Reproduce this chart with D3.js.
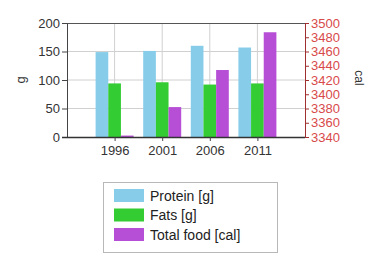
<!DOCTYPE html>
<html>
<head>
<meta charset="utf-8">
<script src="https://cdn.jsdelivr.net/npm/d3@7"></script>
<style>
  body { margin: 0; background: #fff; }
  svg { display: block; font-family: "Liberation Sans", Arial, sans-serif; }
</style>
</head>
<body>
<div id="chart"></div>
<script>
const years = ["1996", "2001", "2006", "2011"];
const protein = [149, 151, 160, 157];
const fats = [94, 96, 92, 94];
const totalFood = [3342, 3382, 3434, 3487];
const gTicks = [0, 50, 100, 150, 200];
const calTicks = [3340, 3360, 3380, 3400, 3420, 3440, 3460, 3480, 3500];

const seriesNames = ["Protein [g]", "Fats [g]", "Total food [cal]"];
const colors = ["#87cdea", "#33cc33", "#b64fd6"];

const width = 367, height = 254;
const plotL = 67, plotR = 305, plotT = 23, plotB = 137;

const svg = d3.select('#chart').append('svg')
    .attr('width', width)
    .attr('height', height);

const step = (plotR - plotL) / 5;
const x = d3.scalePoint()
    .domain(years)
    .range([plotL + step, plotR - step]);

const inner = d3.scaleBand()
    .domain([0, 1, 2])
    .range([-19, 19]);

const yG = d3.scaleLinear().domain([0, 200]).range([plotB, plotT]);
const yCal = d3.scaleLinear().domain([3340, 3500]).range([plotB, plotT]);

// grid
svg.append('g')
    .selectAll('line')
    .data(gTicks.slice(1, -1))
  .enter().append('line')
    .attr('x1', plotL).attr('x2', plotR)
    .attr('y1', d => yG(d)).attr('y2', d => yG(d))
    .style('stroke', '#d0d0d0');

svg.append('g')
    .selectAll('line')
    .data(years)
  .enter().append('line')
    .attr('x1', d => x(d)).attr('x2', d => x(d))
    .attr('y1', plotT).attr('y2', plotB)
    .style('stroke', '#d0d0d0');

// top border
svg.append('line')
    .attr('x1', plotL).attr('x2', plotR)
    .attr('y1', plotT + 0.5).attr('y2', plotT + 0.5)
    .style('stroke', '#555');

// bars
const rows = years.map((y, i) => ({ year: y, vals: [protein[i], fats[i], totalFood[i]] }));

const groups = svg.append('g')
    .selectAll('g')
    .data(rows)
  .enter().append('g')
    .attr('transform', d => `translate(${x(d.year)},0)`);

groups.selectAll('rect')
    .data(d => d.vals.map((v, k) => ({ v, k })))
  .enter().append('rect')
    .attr('x', d => inner(d.k))
    .attr('width', inner.bandwidth())
    .attr('y', d => d.k === 2 ? yCal(d.v) : yG(d.v))
    .attr('height', d => d.k === 2 ? plotB - yCal(d.v) : plotB - yG(d.v))
    .style('fill', d => colors[d.k]);

// axes
const axisLeft = svg.append('g')
    .attr('transform', `translate(${plotL},0)`)
    .call(d3.axisLeft(yG).tickValues(gTicks).tickSize(5).tickSizeOuter(0));
axisLeft.select('.domain').style('stroke', '#444');
axisLeft.selectAll('.tick line').style('stroke', '#444');
axisLeft.selectAll('text')
    .style('font-size', '13px')
    .style('fill', '#333')
    .attr('x', -7);

const axisRight = svg.append('g')
    .attr('transform', `translate(${plotR},0)`)
    .call(d3.axisRight(yCal).tickValues(calTicks).tickFormat(d3.format('d')).tickSize(4).tickSizeOuter(0));
axisRight.select('.domain').style('stroke', '#a03030');
axisRight.selectAll('.tick line').style('stroke', '#a03030');
axisRight.selectAll('text')
    .style('font-size', '13px')
    .style('fill', '#d84a4a')
    .attr('x', 6);

const axisBottom = svg.append('g')
    .attr('transform', `translate(0,${plotB})`)
    .call(d3.axisBottom(x).tickSize(4).tickSizeOuter(0));
axisBottom.select('.domain')
    .attr('d', `M${plotL - 5},0.5H${plotR}`)
    .style('stroke', '#333')
    .style('stroke-width', 1.5);
axisBottom.selectAll('.tick line').style('stroke', '#444');
axisBottom.selectAll('text')
    .style('font-size', '13px')
    .style('fill', '#333')
    .attr('y', 9);

// axis titles
svg.append('text')
    .attr('transform', 'translate(25,80) rotate(-90)')
    .attr('text-anchor', 'middle')
    .style('font-size', '13px')
    .style('fill', '#333')
    .text('g');

svg.append('text')
    .attr('transform', 'translate(355,78) rotate(90)')
    .attr('text-anchor', 'middle')
    .style('font-size', '12px')
    .style('fill', '#333')
    .text('cal');

// legend
const legend = svg.append('g');
legend.append('rect')
    .attr('x', 103.5).attr('y', 182.5)
    .attr('width', 174).attr('height', 70)
    .style('fill', '#fff')
    .style('stroke', '#b8b8b8');

const items = legend.selectAll('g.item')
    .data(seriesNames)
  .enter().append('g')
    .attr('class', 'item')
    .attr('transform', (d, i) => `translate(114,${189 + i * 19.5})`);

items.append('rect')
    .attr('width', 30).attr('height', 13)
    .style('fill', (d, i) => colors[i]);

items.append('text')
    .attr('x', 36).attr('y', 11.5)
    .style('font-size', '14px')
    .style('fill', '#222')
    .text(d => d);
</script>
</body>
</html>
